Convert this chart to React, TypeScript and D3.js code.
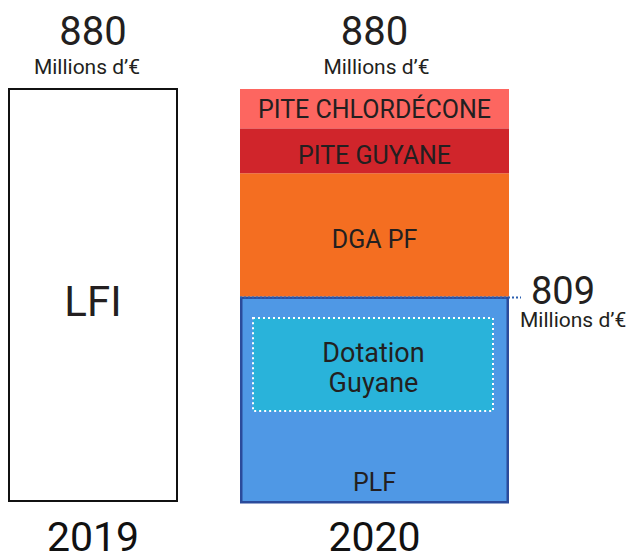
import React from 'react';
import * as d3 from 'd3';

// données
const years = ['2019', '2020'];
const totals = [880, 880];
const unit = "Millions d\u2019\u20ac";
const bar2019Label = 'LFI';

// 2020, du bas vers le haut (M€, estimés)
const segNames = ['PLF', 'DGA PF', 'PITE GUYANE', 'PITE CHLORD\u00c9CONE'];
const segValues = [437, 263, 96, 84];
const segColors = ['#4f98e5', '#f46e21', '#d0252b', '#fd6660'];

// dotation Guyane, incluse dans le PLF (bas, haut)
const dotationRange = [192, 391];
const dotationLines = ['Dotation', 'Guyane'];
const plfAnnotation = 809;

const W = 632;
const H = 553;
const font = 'Roboto, "Noto Sans", sans-serif';
const ink = '#231f20';

const App = () => {
  const x = d3.scalePoint<string>().domain(years).range([93, 374.5]);
  const barWidth: Record<string, number> = { '2019': 168, '2020': 269 };
  const y = d3.scaleLinear().domain([0, 880]).range([501, 89]);

  const row: Record<string, number> = {};
  segNames.forEach((n, i) => (row[n] = segValues[i]));
  const stacked = d3.stack<Record<string, number>>().keys(segNames)([row]);

  const cx19 = x('2019')!;
  const cx20 = x('2020')!;
  const x20 = cx20 - barWidth['2020'] / 2;
  const w20 = barWidth['2020'];

  const plf = stacked[0][0];
  const plfTop = y(plf[1]);

  const labelDy: Record<string, number> = {
    PLF: 0,
    'DGA PF': 4,
    'PITE GUYANE': 4,
    'PITE CHLORD\u00c9CONE': 0,
  };

  return (
    <svg width={W} height={H} style={{ display: 'block', position: 'absolute', left: 0, top: 0 }} fontFamily={font}>
      {/* 2019 */}
      <rect
        x={cx19 - barWidth['2019'] / 2}
        y={y(totals[0])}
        width={barWidth['2019']}
        height={y(0) - y(totals[0])}
        fill="#fff"
        stroke="#111"
        strokeWidth={2}
      />
      <text x={cx19} y={(y(0) + y(totals[0])) / 2 + 21} textAnchor="middle" fontSize={42} fill={ink}>
        {bar2019Label}
      </text>

      {/* 2020 segments */}
      {stacked.map((s, i) => {
        const d = s[0];
        const top = y(d[1]);
        const bot = y(d[0]);
        const name = segNames[i];
        if (name === 'PLF') {
          return (
            <g key={name}>
              <rect x={x20 + 1.25} y={top + 1.25} width={w20 - 2.5} height={bot - top} fill={segColors[i]} stroke="#2b4b9b" strokeWidth={2.5} />
              <text x={cx20} y={bot - 10} textAnchor="middle" fontSize={25} fill={ink}>
                {name}
              </text>
            </g>
          );
        }
        return (
          <g key={name}>
            <rect x={x20} y={top} width={w20} height={bot - top} fill={segColors[i]} />
            <text x={cx20} y={(top + bot) / 2 + 9 + labelDy[name]} textAnchor="middle" fontSize={25} fill={ink}>
              {name}
            </text>
          </g>
        );
      })}

      {/* dotation Guyane */}
      <rect
        x={x20 + 13}
        y={y(dotationRange[1])}
        width={w20 - 29}
        height={y(dotationRange[0]) - y(dotationRange[1])}
        fill="#29b3da"
        stroke="#fff"
        strokeWidth={2}
        strokeDasharray="2,3"
      />
      {dotationLines.map((t, i) => (
        <text
          key={t}
          x={cx20 - 1}
          y={(y(dotationRange[0]) + y(dotationRange[1])) / 2 - 2.5 + i * 30}
          textAnchor="middle"
          fontSize={27}
          fill={ink}
        >
          {t}
        </text>
      ))}

      {/* ligne 809 */}
      <line x1={x20} x2={x20 + w20 + 12} y1={plfTop + 1} y2={plfTop + 1} stroke="#2b5fb0" strokeWidth={2} strokeDasharray="2,2" />
      <text x={531} y={plfTop + 8} fontSize={38} fill={ink}>
        {plfAnnotation}
      </text>
      <text x={520} y={plfTop + 31} fontSize={21} fill={ink}>
        {unit}
      </text>

      {/* totaux */}
      {years.map((yr, i) => (
        <g key={yr}>
          <text x={x(yr)!} y={45} textAnchor="middle" fontSize={40} fill={ink}>
            {totals[i]}
          </text>
          <text x={x(yr)! + (i === 0 ? -6 : 2)} y={74} textAnchor="middle" fontSize={21} fill={ink}>
            {unit}
          </text>
          <text x={x(yr)!} y={551} textAnchor="middle" fontSize={41} fill="#111">
            {yr}
          </text>
        </g>
      ))}
    </svg>
  );
};

export default App;
